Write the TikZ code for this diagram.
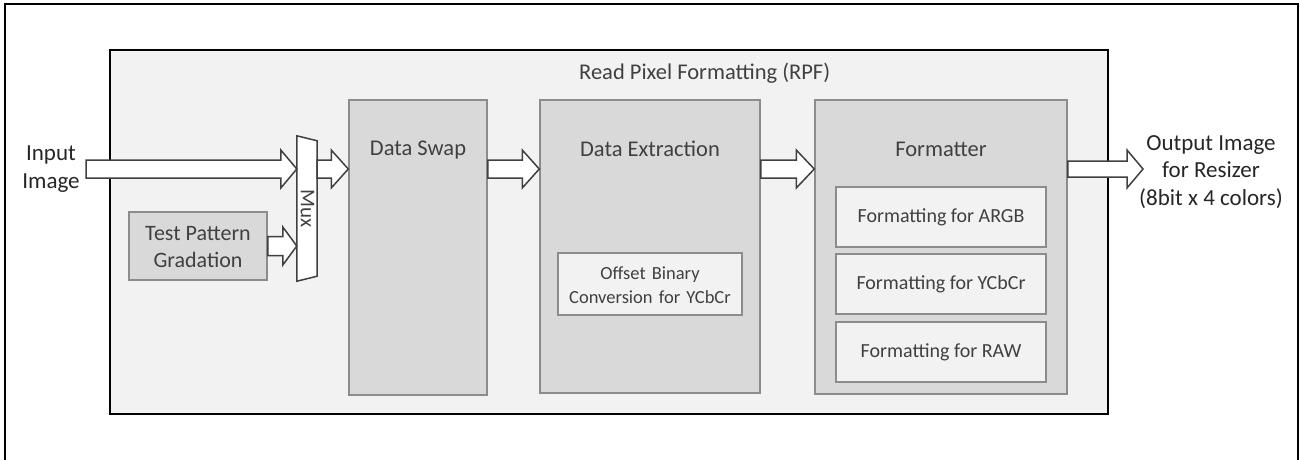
\documentclass[tikz,border=0pt]{standalone}
\usepackage{fontspec}
\setmainfont{Carlito}
\usetikzlibrary{calc}
\definecolor{txt}{HTML}{404040}
\definecolor{txtout}{HTML}{262626}
\definecolor{lightbg}{HTML}{F2F2F2}
\definecolor{midbg}{HTML}{D9D9D9}
\definecolor{boxline}{HTML}{8C8C8C}
\definecolor{arrline}{HTML}{404040}
\tikzset{
  blockbox/.style={draw=boxline, line width=1.5pt, fill=midbg, inner sep=0pt},
  subbox/.style={draw=boxline, line width=1.5pt, fill=lightbg, inner sep=0pt},
  barr/.style={draw=arrline, line width=1.5pt, fill=white, line join=miter},
  lbl/.style={text=txt, font=\fontsize{22.5}{27}\selectfont, inner sep=0pt},
  sublbl/.style={text=txt, font=\fontsize{18.5}{24}\selectfont, inner sep=0pt, align=center},
  fmtlbl/.style={text=txt, font=\fontsize{20}{24}\selectfont, inner sep=0pt},
  outlbl/.style={text=txtout, font=\fontsize{23}{27.5}\selectfont, inner sep=0pt, align=center},
}
\newcommand\barrow[4]{% start, tip, head length, half shaft
  \draw[barr] let \p1=#1, \p2=#2 in
    (\x1,\y2+#4) -- (\x2-#3,\y2+#4) -- (\x2-#3,\y2+19pt) -- (\x2,\y2)
    -- (\x2-#3,\y2-19pt) -- (\x2-#3,\y2-#4) -- (\x1,\y2-#4) -- cycle;}
\begin{document}
\begin{tikzpicture}[x=1pt,y=-1pt]
\useasboundingbox (0,0) rectangle (1300,459);
\begin{scope}
\clip (0,0) rectangle (1300,459);
\draw[line width=2.5pt] (5,470) -- (5,4) -- (1298,4) -- (1298,470);
\end{scope}
% RPF
\node[draw=black, line width=2.5pt, fill=lightbg, minimum width=998pt, minimum height=364pt, inner sep=0pt] (rpf) at (609,232) {};
\node[lbl, anchor=west] (rpft) at (579,73) {Read Pixel Formatting (RPF)};
% blocks
\node[blockbox, minimum width=138pt, minimum height=295pt] (swap) at (418,247.5) {};
\node[lbl] at (418,150) {Data Swap};
\node[blockbox, minimum width=220pt, minimum height=293pt] (extr) at (650,246.5) {};
\node[lbl] at (650,149) {Data Extraction};
\node[subbox, minimum width=184pt, minimum height=62pt] (offs) at (650,284) {};
\node[sublbl, text width=184pt] at (650,285) {Offset Binary\\Conversion for YCbCr};
\node[blockbox, minimum width=252pt, minimum height=294pt] (fmt) at (941,247) {};
\node[lbl] at (941,149) {Formatter};
\node[subbox, minimum width=210pt, minimum height=60pt] (argb) at (941,217) {};
\node[fmtlbl] at (argb) {Formatting for ARGB};
\node[subbox, minimum width=210pt, minimum height=60pt] (ycc) at (941,284) {};
\node[fmtlbl] at (ycc) {Formatting for YCbCr};
\node[subbox, minimum width=210pt, minimum height=60pt] (raw) at (941,352) {};
\node[fmtlbl] at (raw) {Formatting for RAW};
% test pattern
\node[blockbox, line width=1.5pt, minimum width=138pt, minimum height=68pt] (tp) at (198,246) {};
\node[lbl, align=center, font=\fontsize{22}{27}\selectfont] at (198,247) {Test Pattern\\Gradation};
% mux
\node[minimum width=20pt, minimum height=145pt, inner sep=0pt] (mux) at (307,208.5) {};
\draw[draw=arrline, line width=1.5pt, fill=white] (mux.north west) -- ($(mux.north east)+(0,5)$) -- ($(mux.south east)+(0,-5)$) -- (mux.south west) -- cycle;
\node[lbl, rotate=-90, font=\fontsize{21}{22}\selectfont] at (307.5,209) {Mux};
% labels
\node[outlbl] (inp) at (51,169) {Input\\Image};
\coordinate (inA) at (86,169);
\node[outlbl] (outp) at (1211,172) {Output Image\\for Resizer\\(8bit x 4 colors)};
\coordinate (outA) at (1143,169);
% arrows
\barrow{(inA)}{(mux.west |- inA)}{16pt}{9pt}
\barrow{(tp.east)}{(mux.west |- tp.east)}{14pt}{9.5pt}
\barrow{(mux.east |- inA)}{(swap.west |- inA)}{17pt}{9pt}
\barrow{(swap.east |- inA)}{(extr.west |- inA)}{17pt}{9pt}
\barrow{(extr.east |- inA)}{(fmt.west |- inA)}{18pt}{9pt}
\barrow{(fmt.east |- inA)}{(outA)}{16pt}{8pt}
\end{tikzpicture}
\end{document}
